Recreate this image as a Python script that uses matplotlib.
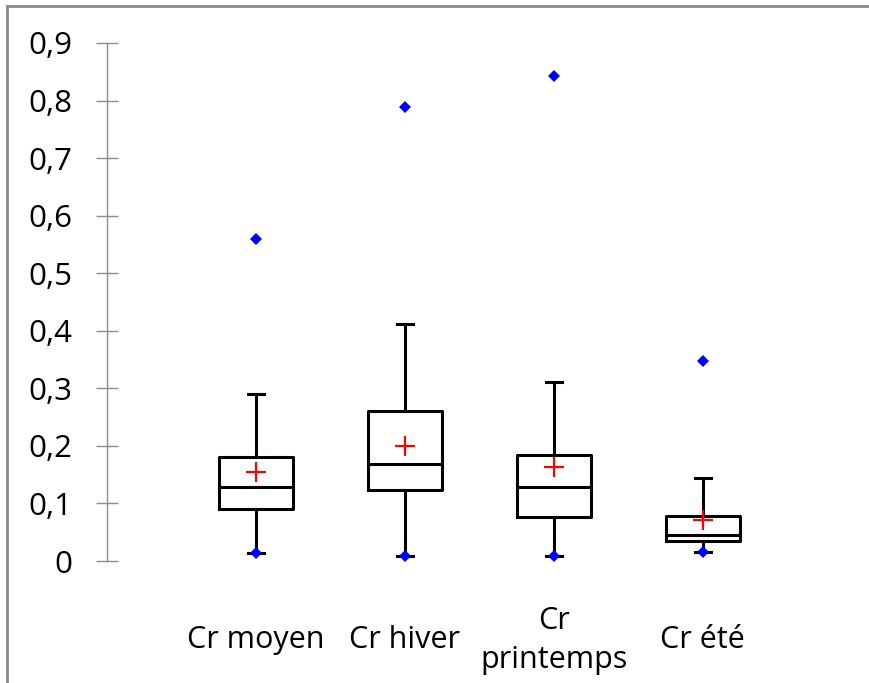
import matplotlib
matplotlib.use("Agg")
import matplotlib.pyplot as plt
from matplotlib.lines import Line2D

categories = ["Cr moyen", "Cr hiver", "Cr\nprintemps", "Cr été"]
q1 = [0.090, 0.123, 0.076, 0.035]
median = [0.128, 0.168, 0.128, 0.046]
q3 = [0.181, 0.260, 0.184, 0.079]
whisker_low = [0.014, 0.009, 0.009, 0.016]
whisker_high = [0.290, 0.411, 0.311, 0.144]
means = [0.155, 0.200, 0.163, 0.072]
minimum = [0.014, 0.009, 0.009, 0.016]
maximum = [0.559, 0.789, 0.843, 0.348]

yticks = [0, 0.1, 0.2, 0.3, 0.4, 0.5, 0.6, 0.7, 0.8, 0.9]
ytick_labels = ["0", "0,1", "0,2", "0,3", "0,4", "0,5", "0,6", "0,7", "0,8", "0,9"]

plt.rcParams["font.family"] = ["Open Sans", "DejaVu Sans"]

stats = []
for i, name in enumerate(categories):
    stats.append({
        "label": name,
        "q1": q1[i],
        "med": median[i],
        "q3": q3[i],
        "whislo": whisker_low[i],
        "whishi": whisker_high[i],
        "mean": means[i],
        "fliers": [minimum[i], maximum[i]],
    })

fig = plt.figure(figsize=(8.7, 6.83), dpi=100)
ax = fig.add_axes([0.123, 0.1786, 0.856, 0.7585])

positions = [1, 2, 3, 4]
line_kw = dict(color="black", linewidth=2.2)
ax.bxp(
    stats,
    positions=positions,
    widths=0.5,
    capwidths=0.11,
    showmeans=True,
    boxprops=line_kw,
    whiskerprops=line_kw,
    capprops=line_kw,
    medianprops=line_kw,
    meanprops=dict(marker="+", markersize=15, markeredgewidth=1.6,
                   markeredgecolor="red", zorder=4),
    flierprops=dict(marker="D", markersize=6.5, markerfacecolor="blue",
                    markeredgecolor="blue", markeredgewidth=0, zorder=5),
)

ax.set_xlim(0, 5)
ax.set_ylim(0, 0.9)
ax.set_yticks(yticks, ytick_labels)
ax.set_xticks(positions, categories, va="center", linespacing=1.4)

for side in ["top", "right", "bottom"]:
    ax.spines[side].set_visible(False)
ax.spines["left"].set_color("#8c8c8c")
ax.spines["left"].set_linewidth(1.0)

ax.tick_params(axis="y", direction="inout", length=16.5, width=1.0,
               color="#8c8c8c", pad=17, labelsize=22.5)
ax.tick_params(axis="x", length=0, pad=57, labelsize=22)

# outer chart frame (left and top edges)
frame_kw = dict(color="#8a8a8a", linewidth=2.0, transform=fig.transFigure)
fig.add_artist(Line2D([7.5 / 870, 7.5 / 870], [0, 1 - 6 / 683], **frame_kw))
fig.add_artist(Line2D([7.5 / 870, 1], [1 - 6 / 683, 1 - 6 / 683], **frame_kw))

fig.savefig("out.png", dpi=100)
plt.close(fig)
